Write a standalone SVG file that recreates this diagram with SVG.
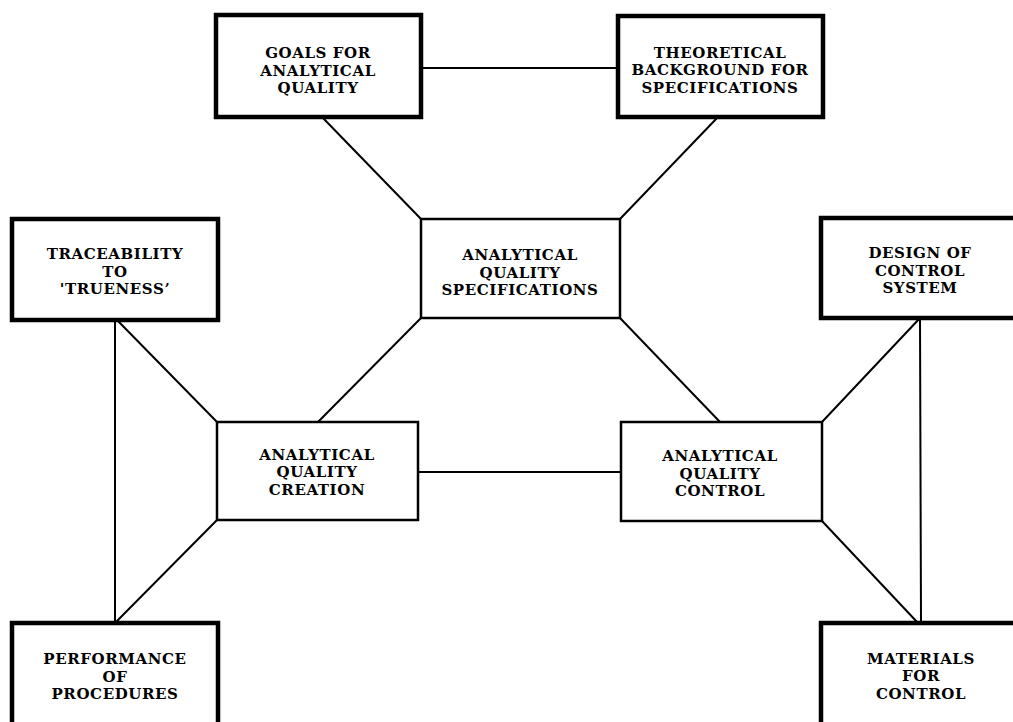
<svg xmlns="http://www.w3.org/2000/svg" width="1013" height="722" viewBox="0 0 1013 722">
  <style>
    .outer { fill: #fff; stroke: #000; stroke-width: 4.5; }
    .inner { fill: #fff; stroke: #000; stroke-width: 2.5; }
    .link { stroke: #000; stroke-width: 2; fill: none; stroke-linecap: round; }
    text { font-family: "DejaVu Serif", "Liberation Serif", serif; font-weight: bold; font-size: 15px; letter-spacing: 0.6px; text-anchor: middle; fill: #000; }
  </style>
  <rect width="1013" height="722" fill="#fff"/>

  <!-- all connecting lines -->
  <g id="connectors">
    <line class="link" x1="421" y1="68" x2="618" y2="68"/>
    <line class="link" x1="322" y1="117" x2="421" y2="219"/>
    <line class="link" x1="718" y1="117" x2="620" y2="219"/>
    <line class="link" x1="421" y1="318" x2="318" y2="422"/>
    <line class="link" x1="620" y1="318" x2="720" y2="422"/>
    <line class="link" x1="418" y1="472" x2="621" y2="472"/>
    <line class="link" x1="115" y1="320" x2="115" y2="623"/>
    <line class="link" x1="117" y1="320" x2="217" y2="422"/>
    <line class="link" x1="115" y1="623" x2="217" y2="520"/>
    <line class="link" x1="920" y1="318" x2="921" y2="623"/>
    <line class="link" x1="920" y1="318" x2="822" y2="422"/>
    <line class="link" x1="918" y1="623" x2="822" y2="521"/>
  </g>

  <g id="goals">
    <rect class="outer" x="216" y="15" width="205" height="102"/>
    <text x="318" y="58"><tspan x="318">GOALS FOR</tspan><tspan x="318" dy="17.5">ANALYTICAL</tspan><tspan x="318" dy="17.5">QUALITY</tspan></text>
  </g>

  <g id="theory">
    <rect class="outer" x="618" y="16" width="205" height="101"/>
    <text x="720" y="57.5"><tspan x="720">THEORETICAL</tspan><tspan x="720" dy="17.5">BACKGROUND FOR</tspan><tspan x="720" dy="17.5">SPECIFICATIONS</tspan></text>
  </g>

  <g id="traceability">
    <rect class="outer" x="12" y="219" width="206" height="101"/>
    <text x="115" y="259"><tspan x="115">TRACEABILITY</tspan><tspan x="115" dy="17.5">TO</tspan><tspan x="115" dy="17.5">'TRUENESS’</tspan></text>
  </g>

  <g id="specifications">
    <rect class="inner" x="421" y="219" width="199" height="99"/>
    <text x="520" y="260"><tspan x="520">ANALYTICAL</tspan><tspan x="520" dy="17.5">QUALITY</tspan><tspan x="520" dy="17.5">SPECIFICATIONS</tspan></text>
  </g>

  <g id="design">
    <rect class="outer" x="821" y="218" width="201" height="100"/>
    <text x="920" y="258"><tspan x="920">DESIGN OF</tspan><tspan x="920" dy="17.5">CONTROL</tspan><tspan x="920" dy="17.5">SYSTEM</tspan></text>
  </g>

  <g id="creation">
    <rect class="inner" x="217" y="422" width="201" height="98"/>
    <text x="317" y="459.5"><tspan x="317">ANALYTICAL</tspan><tspan x="317" dy="17.5">QUALITY</tspan><tspan x="317" dy="17.5">CREATION</tspan></text>
  </g>

  <g id="control">
    <rect class="inner" x="621" y="422" width="201" height="99"/>
    <text x="720" y="461"><tspan x="720">ANALYTICAL</tspan><tspan x="720" dy="17.5">QUALITY</tspan><tspan x="720" dy="17.5">CONTROL</tspan></text>
  </g>

  <g id="performance">
    <rect class="outer" x="12" y="623" width="206" height="110"/>
    <text x="115" y="664"><tspan x="115">PERFORMANCE</tspan><tspan x="115" dy="17.5">OF</tspan><tspan x="115" dy="17.5">PROCEDURES</tspan></text>
  </g>

  <g id="materials">
    <rect class="outer" x="821" y="623" width="201" height="110"/>
    <text x="921" y="663.5"><tspan x="921">MATERIALS</tspan><tspan x="921" dy="17.5">FOR</tspan><tspan x="921" dy="17.5">CONTROL</tspan></text>
  </g>
</svg>
